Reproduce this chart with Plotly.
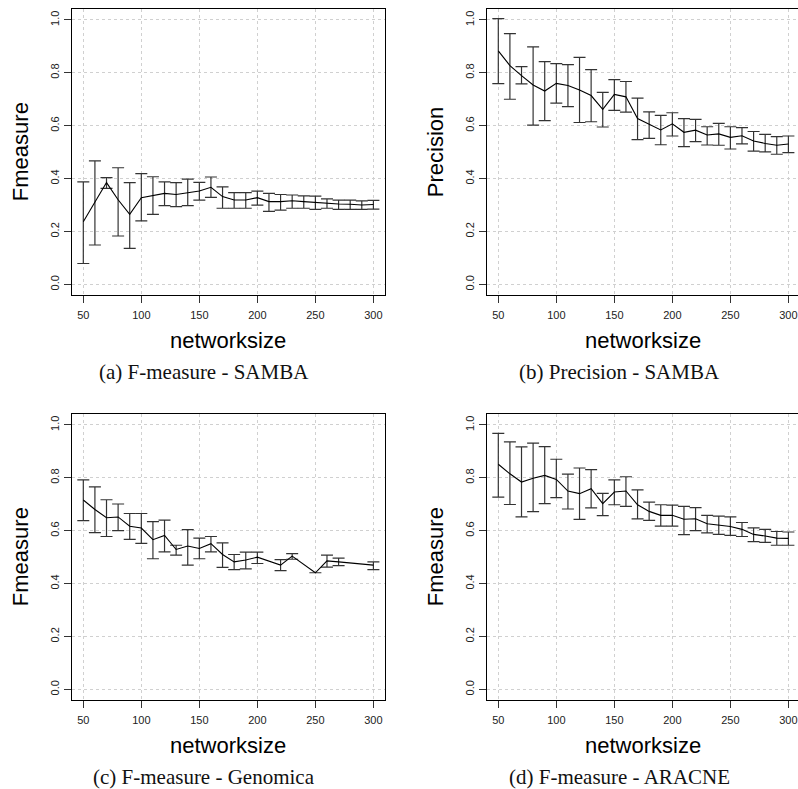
import plotly.graph_objects as go

# ---------------- data ----------------
sizes = [50, 60, 70, 80, 90, 100, 110, 120, 130, 140, 150, 160, 170, 180, 190,
         200, 210, 220, 230, 240, 250, 260, 270, 280, 290, 300]

# (a) F-measure - SAMBA
a_mean = [0.237, 0.31, 0.385, 0.32, 0.265, 0.328, 0.335, 0.344, 0.34, 0.347, 0.353, 0.367, 0.332,
          0.319, 0.319, 0.328, 0.313, 0.313, 0.316, 0.313, 0.31, 0.306, 0.304, 0.303, 0.300, 0.302]
a_up = [0.388, 0.467, 0.404, 0.441, 0.385, 0.419, 0.407, 0.388, 0.385, 0.398, 0.386, 0.406, 0.369,
        0.347, 0.347, 0.353, 0.344, 0.340, 0.338, 0.335, 0.334, 0.323, 0.319, 0.319, 0.316, 0.318]
a_lo = [0.079, 0.149, 0.363, 0.183, 0.136, 0.240, 0.265, 0.298, 0.294, 0.298, 0.319, 0.329, 0.288,
        0.288, 0.288, 0.300, 0.276, 0.281, 0.288, 0.288, 0.284, 0.288, 0.284, 0.284, 0.284, 0.285]

# (b) Precision - SAMBA
b_mean = [0.883, 0.827, 0.789, 0.754, 0.731, 0.760, 0.752, 0.735, 0.714, 0.662, 0.718, 0.709, 0.627,
          0.607, 0.584, 0.607, 0.575, 0.583, 0.565, 0.569, 0.556, 0.562, 0.542, 0.533, 0.526, 0.531]
b_up = [1.005, 0.948, 0.823, 0.898, 0.842, 0.835, 0.831, 0.858, 0.812, 0.726, 0.774, 0.767, 0.704,
        0.652, 0.639, 0.649, 0.627, 0.624, 0.596, 0.609, 0.596, 0.593, 0.578, 0.567, 0.559, 0.561]
b_lo = [0.759, 0.700, 0.758, 0.602, 0.619, 0.685, 0.672, 0.612, 0.615, 0.595, 0.658, 0.651, 0.547,
        0.552, 0.528, 0.561, 0.521, 0.540, 0.527, 0.526, 0.512, 0.531, 0.504, 0.501, 0.492, 0.498]

# (c) F-measure - Genomica (some sizes missing)
c_sizes = [50, 60, 70, 80, 90, 100, 110, 120, 130, 140, 150, 160, 170, 180, 190, 200,
           220, 230, 250, 260, 270, 300]
c_mean = [0.716, 0.68, 0.649, 0.652, 0.617, 0.610, 0.566, 0.582, 0.529, 0.542, 0.533, 0.551, 0.510,
          0.482, 0.489, 0.500, 0.470, 0.504, 0.441, 0.486, 0.482, 0.470]
c_up = [0.792, 0.766, 0.717, 0.701, 0.665, 0.665, 0.634, 0.640, 0.545, 0.604, 0.572, 0.578, 0.554,
        0.510, 0.519, 0.519, 0.491, 0.513, 0.441, 0.508, 0.496, 0.482]
c_lo = [0.638, 0.593, 0.578, 0.600, 0.567, 0.552, 0.494, 0.520, 0.508, 0.470, 0.494, 0.520, 0.461,
        0.453, 0.456, 0.476, 0.449, 0.492, 0.441, 0.462, 0.468, 0.453]

# (d) F-measure - ARACNE
d_mean = [0.851, 0.815, 0.784, 0.798, 0.809, 0.794, 0.750, 0.740, 0.759, 0.702, 0.746, 0.750, 0.698,
          0.673, 0.658, 0.658, 0.643, 0.645, 0.626, 0.621, 0.616, 0.605, 0.586, 0.580, 0.572, 0.571]
d_up = [0.968, 0.936, 0.917, 0.931, 0.918, 0.870, 0.814, 0.837, 0.831, 0.741, 0.792, 0.804, 0.754,
        0.708, 0.698, 0.697, 0.692, 0.687, 0.658, 0.655, 0.652, 0.631, 0.611, 0.605, 0.597, 0.595]
d_lo = [0.727, 0.699, 0.652, 0.672, 0.702, 0.725, 0.682, 0.643, 0.686, 0.657, 0.698, 0.692, 0.645,
        0.639, 0.617, 0.617, 0.585, 0.600, 0.592, 0.586, 0.582, 0.578, 0.559, 0.556, 0.545, 0.545]

x_ticks = [50, 100, 150, 200, 250, 300]
y_ticks = [0.0, 0.2, 0.4, 0.6, 0.8, 1.0]
y_labels = ["0.0", "0.2", "0.4", "0.6", "0.8", "1.0"]

panels = [
    dict(x=sizes, m=a_mean, u=a_up, l=a_lo, ytitle="Fmeasure", cap="(a) F-measure - SAMBA"),
    dict(x=sizes, m=b_mean, u=b_up, l=b_lo, ytitle="Precision", cap="(b) Precision - SAMBA"),
    dict(x=c_sizes, m=c_mean, u=c_up, l=c_lo, ytitle="Fmeasure", cap="(c) F-measure - Genomica"),
    dict(x=sizes, m=d_mean, u=d_up, l=d_lo, ytitle="Fmeasure", cap="(d) F-measure - ARACNE"),
]

# ---------------- layout geometry (pixels) ----------------
W, H = 798, 789
def px(x): return x / W
def py(y): return 1 - y / H

boxes = [  # left, right, top, bottom, clipped-right
    (71.7, 385.0, 9.3, 295.0, False),
    (486.7, 798.0, 9.3, 295.0, True),
    (71.7, 385.0, 414.3, 700.0, False),
    (486.7, 798.0, 414.3, 700.0, True),
]

fig = go.Figure()
ann = []
layout = {}
for i, (p, (L, R, T, B, clip)) in enumerate(zip(panels, boxes)):
    k = "" if i == 0 else str(i + 1)
    up = [u - m for u, m in zip(p["u"], p["m"])]
    lo = [m - l for m, l in zip(p["m"], p["l"])]
    fig.add_trace(go.Scatter(
        x=p["x"], y=p["m"], mode="lines",
        line=dict(color="black", width=1.1),
        error_y=dict(type="data", array=up, arrayminus=lo, symmetric=False,
                     color="#333333", thickness=1.2, width=6),
        xaxis="x" + k, yaxis="y" + k, showlegend=False, hoverinfo="skip"))
    if clip:
        scale = (313.3) / 270.0
        xr = [40, 40 + (R - L) / scale]
    else:
        xr = [40, 310]
    layout["xaxis" + k] = dict(
        domain=[px(L), px(R)], anchor="y" + k, range=xr,
        tickvals=x_ticks, ticks="outside", ticklen=7, tickwidth=1, tickcolor="#333",
        ticklabelstandoff=3,
        showline=True, linecolor="black", linewidth=1.2, mirror=True,
        showgrid=True, gridcolor="#d0d0d0", griddash="dot", gridwidth=1,
        zeroline=False,
        tickfont=dict(family="Liberation Sans", size=11, color="#222"))
    layout["yaxis" + k] = dict(
        domain=[py(B), py(T)], anchor="x" + k, range=[-0.04, 1.04],
        tickvals=y_ticks, ticktext=y_labels, tickangle=-90,
        ticks="outside", ticklen=7, tickwidth=1, tickcolor="#333",
        showline=True, linecolor="black", linewidth=1.2, mirror=(not clip),
        showgrid=True, gridcolor="#d0d0d0", griddash="dot", gridwidth=1,
        zeroline=False,
        tickfont=dict(family="Liberation Sans", size=11, color="#222"))
    cx = (L + 313.3 / 2) if clip else (L + R) / 2
    # y-axis title
    ann.append(dict(x=px(L - 51.7), y=py((T + B) / 2), xref="paper", yref="paper",
                    text=p["ytitle"], textangle=-90, showarrow=False,
                    xanchor="center", yanchor="middle",
                    font=dict(family="Liberation Sans", size=22, color="black")))
    # x-axis title
    ann.append(dict(x=px(cx), y=py(B + 45), xref="paper", yref="paper",
                    text="networksize", showarrow=False,
                    xanchor="center", yanchor="middle",
                    font=dict(family="Liberation Sans", size=22, color="black")))
    # caption
    ann.append(dict(x=px(cx - 24), y=py(B + 77), xref="paper", yref="paper",
                    text=p["cap"], showarrow=False,
                    xanchor="center", yanchor="middle",
                    font=dict(family="Liberation Serif", size=21, color="#111")))

fig.update_layout(
    width=W, height=H, margin=dict(l=0, r=0, t=0, b=0),
    paper_bgcolor="white", plot_bgcolor="white",
    annotations=ann, **layout)

fig.write_html("out.html")
